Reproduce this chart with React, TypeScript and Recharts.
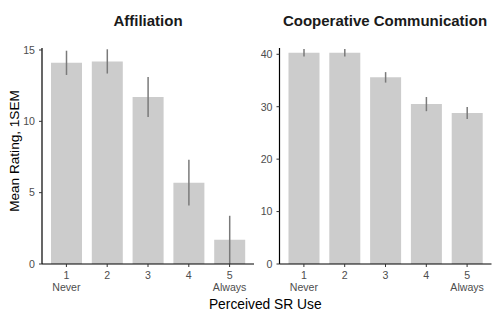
import React from 'react';
import { BarChart, Bar, XAxis, YAxis, ErrorBar } from 'recharts';

const categories = ['1', '2', '3', '4', '5'];
const categorySubLabels = ['Never', '', '', '', 'Always'];
const affiliationMean = [14.1, 14.2, 11.7, 5.7, 1.7];
const affiliationSem = [0.85, 0.85, 1.4, 1.6, 1.68];
const coopMean = [40.3, 40.3, 35.6, 30.5, 28.8];
const coopSem = [0.7, 0.7, 1.0, 1.35, 1.15];
const affiliationTicks = [0, 5, 10, 15];
const coopTicks = [0, 10, 20, 30, 40];

const FONT = '"Liberation Sans", Arial, Helvetica, sans-serif';
const TICK_FS = 10.6;
const TICK_COLOR = '#4d4d4d';

const affData = categories.map((c, i) => ({ cat: c, sub: categorySubLabels[i], mean: affiliationMean[i], err: affiliationSem[i] }));
const coopData = categories.map((c, i) => ({ cat: c, sub: categorySubLabels[i], mean: coopMean[i], err: coopSem[i] }));

const XTick = (props: any) => {
  const { x, y, payload, index } = props;
  const sub = categorySubLabels[index];
  return (
    <g>
      <text x={x} y={y + 10} textAnchor="middle" fontSize={TICK_FS} fill={TICK_COLOR} fontFamily={FONT}>{payload.value}</text>
      {sub ? <text x={x} y={y + 21.7} textAnchor="middle" fontSize={TICK_FS} fill={TICK_COLOR} fontFamily={FONT}>{sub}</text> : null}
    </g>
  );
};

const YTick = (props: any) => {
  const { x, y, payload } = props;
  return (
    <text x={x} y={y + 3.8} textAnchor="end" fontSize={TICK_FS} fill={TICK_COLOR} fontFamily={FONT}>{payload.value}</text>
  );
};

const Panel = ({ data, ticks, max, left, right }: any) => (
  <div style={{ position: 'absolute', left: 0, top: 0 }}>
    <BarChart width={498} height={317} data={data} margin={{ top: 48, left, right, bottom: 23 }}>
      <XAxis
        dataKey="cat"
        height={30}
        padding={{ left: 4, right: 4 }}
        tick={<XTick />}
        tickSize={3}
        tickMargin={2}
        stroke="#000"
        axisLine={{ stroke: '#000', strokeWidth: 1.2 }}
        tickLine={{ stroke: '#333' }}
        interval={0}
      />
      <YAxis
        type="number"
        width={40}
        domain={[0, max]}
        ticks={ticks}
        allowDataOverflow
        tickSize={3}
        tickMargin={4}
        stroke="#000"
        axisLine={{ stroke: '#000', strokeWidth: 1.2 }}
        tickLine={{ stroke: '#333' }}
        tick={<YTick />}
      />
      <Bar dataKey="mean" fill="#cccccc" barSize={31} isAnimationActive={false}>
        <ErrorBar dataKey="err" width={0} stroke="#7a7a7a" strokeWidth={1.5} direction="y" />
      </Bar>
    </BarChart>
  </div>
);

export default function App() {
  return (
    <div style={{ position: 'absolute', left: 0, top: 0, width: 498, height: 317, background: '#fff', fontFamily: FONT }}>
      <Panel data={affData} ticks={affiliationTicks} max={15.14} left={2} right={244} />
      <Panel data={coopData} ticks={coopTicks} max={41.2} left={239.5} right={6.5} />
      <svg width={498} height={317} style={{ position: 'absolute', left: 0, top: 0, pointerEvents: 'none' }}>
        <text x={148} y={26} textAnchor="middle" fontSize={15} fontWeight="bold" fill="#1a1a1a" fontFamily={FONT}>Affiliation</text>
        <text x={385} y={26} textAnchor="middle" fontSize={15} fontWeight="bold" fill="#1a1a1a" fontFamily={FONT}>Cooperative Communication</text>
        <text x={265.3} y={308.5} textAnchor="middle" fontSize={13.8} fill="#000" fontFamily={FONT}>Perceived SR Use</text>
        <text x={18.5} y={151} textAnchor="middle" fontSize={13.6} fill="#000" fontFamily={FONT} transform="rotate(-90 18.5 151)">Mean Rating, 1SEM</text>
      </svg>
    </div>
  );
}
